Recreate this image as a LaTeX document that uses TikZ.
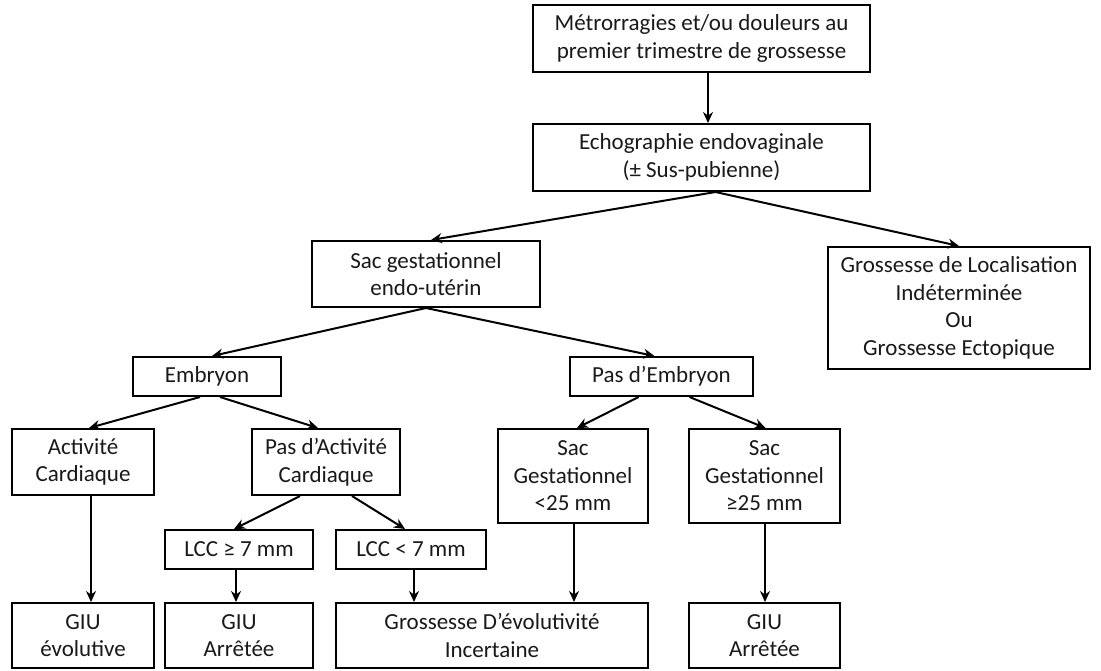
\documentclass[tikz,border=0pt]{standalone}
\usepackage{fontspec}
\setmainfont{Carlito}
\usetikzlibrary{arrows.meta}
\tikzset{
  boite/.style={draw, line width=2pt, align=center, inner sep=0pt,
    text=black!90, font=\fontsize{23}{27.5}\selectfont},
  fleche/.style={line width=2pt, -{Stealth[length=11pt,width=10pt]}}
}
\begin{document}
\begin{tikzpicture}[x=1pt,y=-1pt]
    \useasboundingbox (0,0) rectangle (1101,670);
    % niveaux du haut
    \node[boite, minimum width=337pt, minimum height=67pt] (symptomes) at (701.5,38.5) {Métrorragies et/ou douleurs au\\premier trimestre de grossesse};
    \node[boite, minimum width=337pt, minimum height=67pt] (echo) at (701.5,157.5) {Echographie endovaginale\\(± Sus-pubienne)};
    \node[boite, minimum width=228pt, minimum height=66pt] (sacendo) at (426,274) {Sac gestationnel\\endo-utérin};
    \node[boite, minimum width=262pt, minimum height=122pt] (gli) at (959,308) {Grossesse de Localisation\\Indéterminée\\Ou\\Grossesse Ectopique};
    \node[boite, minimum width=148pt, minimum height=39pt] (embryon) at (207,376.5) {Embryon};
    \node[boite, minimum width=183pt, minimum height=39pt] (pasemb) at (661.5,376.5) {Pas d’Embryon};
    % niveau intermediaire
    \node[boite, minimum width=142pt, minimum height=66pt] (activite) at (83,462) {Activité\\Cardiaque};
    \node[boite, minimum width=148pt, minimum height=66pt] (pasact) at (326,462) {Pas d’Activité\\Cardiaque};
    \node[boite, minimum width=150pt, minimum height=94pt] (sacinf) at (573,476) {Sac\\Gestationnel\\<25 mm};
    \node[boite, minimum width=151pt, minimum height=94pt] (sacsup) at (764.5,476) {Sac\\Gestationnel\\≥25 mm};
    \node[boite, minimum width=148pt, minimum height=39pt] (lccsup) at (239,549.5) {LCC ≥ 7 mm};
    \node[boite, minimum width=150pt, minimum height=39pt] (lccinf) at (411,549.5) {LCC < 7 mm};
    % issues
    \node[boite, minimum width=142pt, minimum height=65pt] (giuevol) at (83,635.5) {GIU\\évolutive};
    \node[boite, minimum width=148pt, minimum height=65pt] (giuarr) at (239,635.5) {GIU\\Arrêtée};
    \node[boite, minimum width=312pt, minimum height=65pt] (incert) at (492,635.5) {Grossesse D’évolutivité\\Incertaine};
    \node[boite, minimum width=151pt, minimum height=65pt] (giuarrsac) at (764.5,635.5) {GIU\\Arrêtée};
    % fleches
    \draw[fleche] ([xshift=6.5pt]symptomes.south) -- ([xshift=6.5pt]echo.north);
    \draw[fleche] ([xshift=14pt]echo.south) -- ([xshift=5pt]sacendo.north);
    \draw[fleche] ([xshift=14pt]echo.south) -- (gli.north);
    \draw[fleche] (sacendo.south) -- ([xshift=5pt]embryon.north);
    \draw[fleche] (sacendo.south) -- ([xshift=-7pt]pasemb.north);
    \draw[fleche] ([xshift=-7pt]embryon.south) -- ([xshift=6pt]activite.north);
    \draw[fleche] ([xshift=13pt]embryon.south) -- ([xshift=-8pt]pasact.north);
    \draw[fleche] ([xshift=-23pt]pasemb.south) -- ([xshift=4pt]sacinf.north);
    \draw[fleche] ([xshift=28pt]pasemb.south) -- ([xshift=1pt]sacsup.north);
    \draw[fleche] ([xshift=-26pt]pasact.south) -- ([xshift=-5pt]lccsup.north);
    \draw[fleche] ([xshift=26pt]pasact.south) -- ([xshift=-6pt]lccinf.north);
    \draw[fleche] ([xshift=8pt]activite.south) -- ([xshift=8pt]giuevol.north);
    \draw[fleche] ([xshift=-3pt]lccsup.south) -- ([xshift=-3pt]giuarr.north);
    \draw[fleche] ([xshift=3pt]lccinf.south) -- ([xshift=-78pt]incert.north);
    \draw[fleche] ([xshift=1pt]sacinf.south) -- ([xshift=82pt]incert.north);
    \draw[fleche] ([xshift=0.5pt]sacsup.south) -- ([xshift=0.5pt]giuarrsac.north);
\end{tikzpicture}
\end{document}
